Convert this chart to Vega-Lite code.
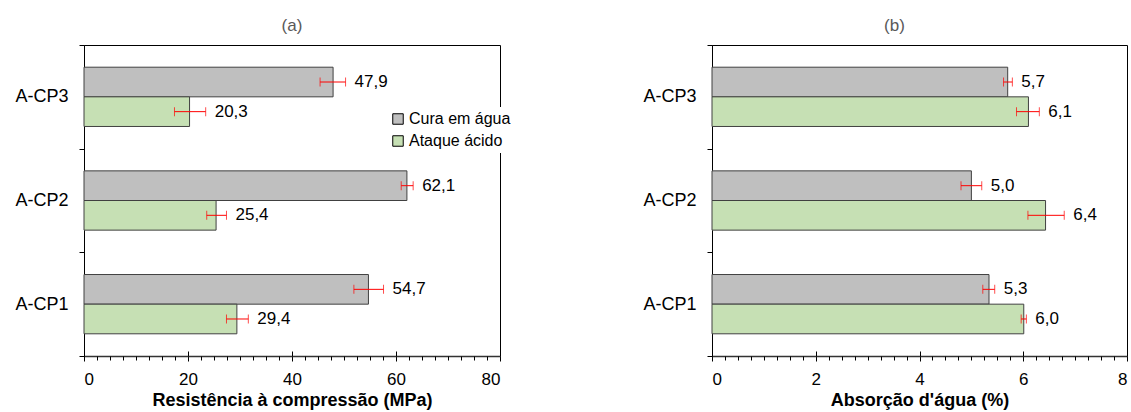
{
  "$schema": "https://vega.github.io/schema/vega-lite/v6.json",
  "padding": {"left": 14, "top": 16, "right": 5, "bottom": 0},
  "bounds": "flush",
  "spacing": 212,
  "background": "white",
  "config": {
    "font": "Liberation Sans",
    "locale": {"number": {"decimal": ",", "thousands": ".", "grouping": [3], "currency": ["", ""]}},
    "view": {"stroke": "black", "strokeWidth": 1},
    "axis": {"grid": false, "labelColor": "black", "labelFontSize": 17, "labelFont": "Liberation Sans", "domainColor": "black", "tickColor": "black", "titleColor": "black", "titleFont": "Liberation Sans"},
    "title": {"fontSize": 17, "fontWeight": "normal", "color": "#595959", "offset": 1, "font": "Liberation Sans"}
  },
  "datasets": {
    "res": [
      {"sample": "A-CP3", "series": "Cura em água", "value": 47.9, "lo": 45.4, "hi": 50.3},
      {"sample": "A-CP3", "series": "Ataque ácido", "value": 20.3, "lo": 17.4, "hi": 23.4},
      {"sample": "A-CP2", "series": "Cura em água", "value": 62.1, "lo": 61.0, "hi": 63.3},
      {"sample": "A-CP2", "series": "Ataque ácido", "value": 25.4, "lo": 23.6, "hi": 27.4},
      {"sample": "A-CP1", "series": "Cura em água", "value": 54.7, "lo": 51.9, "hi": 57.6},
      {"sample": "A-CP1", "series": "Ataque ácido", "value": 29.4, "lo": 27.4, "hi": 31.6}
    ],
    "abs": [
      {"sample": "A-CP3", "series": "Cura em água", "value": 5.7, "lo": 5.62, "hi": 5.79},
      {"sample": "A-CP3", "series": "Ataque ácido", "value": 6.1, "lo": 5.87, "hi": 6.31},
      {"sample": "A-CP2", "series": "Cura em água", "value": 5.0, "lo": 4.8, "hi": 5.2},
      {"sample": "A-CP2", "series": "Ataque ácido", "value": 6.43, "lo": 6.09, "hi": 6.79},
      {"sample": "A-CP1", "series": "Cura em água", "value": 5.34, "lo": 5.22, "hi": 5.45},
      {"sample": "A-CP1", "series": "Ataque ácido", "value": 6.01, "lo": 5.96, "hi": 6.06}
    ]
  },
  "hconcat": [
    {
      "width": 416, "height": 311,
      "title": {"text": "(a)"},
      "data": {"name": "res"},
      "encoding": {
        "y": {"field": "sample", "type": "nominal", "sort": ["A-CP3", "A-CP2", "A-CP1"],
              "scale": {"paddingInner": 0, "paddingOuter": 0},
              "axis": {"title": null, "tickBand": "extent", "tickSize": 5, "labelPadding": 11, "labelFontSize": 18, "domainColor": "black"}},
        "yOffset": {"field": "series", "type": "nominal", "sort": ["Cura em água", "Ataque ácido"], "scale": {"paddingInner": 0, "paddingOuter": 0.749}}
      },
      "layer": [
        {
          "mark": {"type": "bar", "stroke": "#404040", "strokeWidth": 1},
          "encoding": {
            "x": {"field": "value", "type": "quantitative", "scale": {"domain": [0, 80], "nice": false},
                  "axis": {"values": [0, 20, 40, 60, 80], "tickSize": 5, "labelPadding": 10, "domainWidth": 1.5, "domainColor": "#333333",
                           "title": "Resistência à compressão (MPa)", "titleFontSize": 18, "titleFontWeight": "bold", "titlePadding": 4}},
            "color": {"field": "series", "type": "nominal",
                      "scale": {"domain": ["Cura em água", "Ataque ácido"], "range": ["#BFBFBF", "#C6E0B4"]},
                      "legend": {"orient": "none", "legendX": 302, "legendY": 62, "title": null, "symbolType": "square", "symbolSize": 110,
                                 "symbolStrokeColor": "black", "symbolStrokeWidth": 1, "labelFontSize": 16, "labelColor": "black",
                                 "fillColor": "white", "padding": 4, "rowPadding": 6, "labelOffset": 3}}
          }
        },
        {
          "mark": {"type": "rule", "color": "#FF0000", "strokeWidth": 1},
          "encoding": {
            "x": {"field": "lo", "type": "quantitative", "scale": {"domain": [0, 80], "nice": false},
                  "axis": {"orient": "bottom", "values": [2.5, 5, 7.5, 10, 12.5, 15, 17.5, 22.5, 25, 27.5, 30, 32.5, 35, 37.5, 42.5, 45, 47.5, 50, 52.5, 55, 57.5, 62.5, 65, 67.5, 70, 72.5, 75, 77.5],
                           "labels": false, "domain": false, "tickSize": 4, "title": null}},
            "x2": {"field": "hi"}
          }
        },
        {
          "mark": {"type": "tick", "color": "#FF0000", "thickness": 1, "size": 9},
          "encoding": {
            "x": {"field": "lo", "type": "quantitative", "scale": {"domain": [0, 80], "nice": false},
                  "axis": {"orient": "bottom", "values": [0, 20, 40, 60, 80], "labels": false, "domain": false, "tickSize": -5, "title": null}}
          }
        },
        {
          "mark": {"type": "tick", "color": "#FF0000", "thickness": 1, "size": 9},
          "encoding": {
            "x": {"field": "hi", "type": "quantitative", "scale": {"domain": [0, 80], "nice": false}, "axis": null}
          }
        },
        {
          "mark": {"type": "text", "align": "left", "baseline": "middle", "dx": 9, "fontSize": 17, "color": "black"},
          "encoding": {
            "x": {"field": "hi", "type": "quantitative", "scale": {"domain": [0, 80], "nice": false}, "axis": null},
            "text": {"field": "value", "type": "quantitative", "format": ".1f"}
          }
        }
      ],
      "resolve": {"axis": {"x": "independent"}}
    },
    {
      "width": 415, "height": 311,
      "title": {"text": "(b)", "dx": -25},
      "data": {"name": "abs"},
      "encoding": {
        "y": {"field": "sample", "type": "nominal", "sort": ["A-CP3", "A-CP2", "A-CP1"],
              "scale": {"paddingInner": 0, "paddingOuter": 0},
              "axis": {"title": null, "tickBand": "extent", "tickSize": 5, "labelPadding": 11, "labelFontSize": 18, "domainColor": "black"}},
        "yOffset": {"field": "series", "type": "nominal", "sort": ["Cura em água", "Ataque ácido"], "scale": {"paddingInner": 0, "paddingOuter": 0.749}}
      },
      "layer": [
        {
          "mark": {"type": "bar", "stroke": "#404040", "strokeWidth": 1},
          "encoding": {
            "x": {"field": "value", "type": "quantitative", "scale": {"domain": [0, 8], "nice": false},
                  "axis": {"values": [0, 2, 4, 6, 8], "tickSize": 5, "labelPadding": 10, "domainWidth": 1.5, "domainColor": "#333333",
                           "title": "Absorção d'água (%)", "titleFontSize": 18, "titleFontWeight": "bold", "titlePadding": 4}},
            "color": {"field": "series", "type": "nominal",
                      "scale": {"domain": ["Cura em água", "Ataque ácido"], "range": ["#BFBFBF", "#C6E0B4"]},
                      "legend": null}
          }
        },
        {
          "mark": {"type": "rule", "color": "#FF0000", "strokeWidth": 1},
          "encoding": {
            "x": {"field": "lo", "type": "quantitative", "scale": {"domain": [0, 8], "nice": false},
                  "axis": {"orient": "bottom", "values": [0.25, 0.5, 0.75, 1, 1.25, 1.5, 1.75, 2.25, 2.5, 2.75, 3, 3.25, 3.5, 3.75, 4.25, 4.5, 4.75, 5, 5.25, 5.5, 5.75, 6.25, 6.5, 6.75, 7, 7.25, 7.5, 7.75],
                           "labels": false, "domain": false, "tickSize": 4, "title": null}},
            "x2": {"field": "hi"}
          }
        },
        {
          "mark": {"type": "tick", "color": "#FF0000", "thickness": 1, "size": 9},
          "encoding": {
            "x": {"field": "lo", "type": "quantitative", "scale": {"domain": [0, 8], "nice": false},
                  "axis": {"orient": "bottom", "values": [0, 2, 4, 6, 8], "labels": false, "domain": false, "tickSize": -5, "title": null}}
          }
        },
        {
          "mark": {"type": "tick", "color": "#FF0000", "thickness": 1, "size": 9},
          "encoding": {
            "x": {"field": "hi", "type": "quantitative", "scale": {"domain": [0, 8], "nice": false}, "axis": null}
          }
        },
        {
          "mark": {"type": "text", "align": "left", "baseline": "middle", "dx": 9, "fontSize": 17, "color": "black"},
          "encoding": {
            "x": {"field": "hi", "type": "quantitative", "scale": {"domain": [0, 8], "nice": false}, "axis": null},
            "text": {"field": "value", "type": "quantitative", "format": ".1f"}
          }
        }
      ],
      "resolve": {"axis": {"x": "independent"}}
    }
  ]
}
